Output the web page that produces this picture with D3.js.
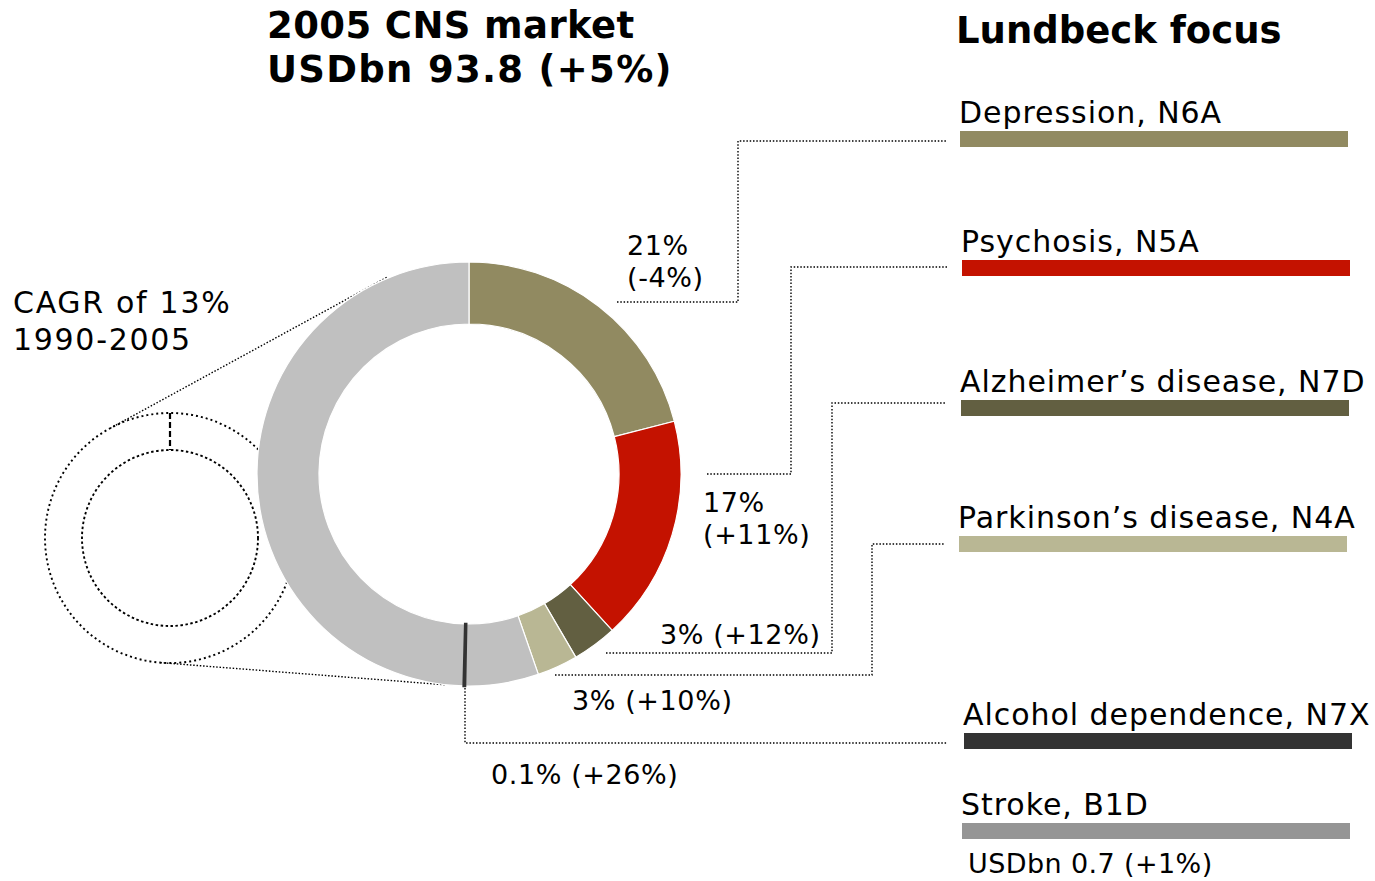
<!DOCTYPE html>
<html>
<head>
<meta charset="utf-8">
<script src="https://cdn.jsdelivr.net/npm/d3@7"></script>
<style>
  body { margin: 0; background: #fff; }
  text { font-family: "DejaVu Sans", Verdana, sans-serif; fill: #000; }
</style>
</head>
<body>
<div class="chart"></div>
<script>
var width = 1375;
var height = 881;

// market share of each slice (% of CNS market), clockwise from 12 o'clock
var segments = ["Depression", "Psychosis", "Alzheimer's", "Parkinson's", "Other A", "Alcohol", "Other B"];
var shares = [21, 17.2, 3.4, 3.1, 5.6, 0.1, 49.6];
var segColors = ["#918a61", "#c41200", "#625f41", "#b9b794", "#c0c0c0", "#333333", "#c0c0c0"];

// slice labels: share and growth
var shareLabels = ["21%", "17%", "3%", "3%", "0.1%"];
var growthLabels = ["(-4%)", "(+11%)", "(+12%)", "(+10%)", "(+26%)"];

// Lundbeck focus areas on the right
var focusNames = ["Depression, N6A", "Psychosis, N5A", "Alzheimer\u2019s disease, N7D",
  "Parkinson\u2019s disease, N4A", "Alcohol dependence, N7X", "Stroke, B1D"];
var focusColors = ["#918a61", "#c41200", "#625f41", "#b9b794", "#333333", "#959595"];

var svg = d3
  .select(".chart")
  .append("svg")
  .attr("width", width)
  .attr("height", height);

// donut geometry
var cx = 469, cy = 474, outerR = 212, innerR = 150;
// small "1990" donut
var sx = 170, sy = 538, sOuter = 125, sInner = 88;

// tangent lines between the small and the big circle (external tangents)
function tangents(c1, r1, c2, r2) {
  var dx = c2[0] - c1[0], dy = c2[1] - c1[1];
  var d = Math.sqrt(dx * dx + dy * dy);
  var base = Math.atan2(dy, dx);
  var theta = Math.acos((r1 - r2) / d);
  return [base - theta, base + theta].map(function(a) {
    var n = [Math.cos(a), Math.sin(a)];
    return [[c1[0] + r1 * n[0], c1[1] + r1 * n[1]], [c2[0] + r2 * n[0], c2[1] + r2 * n[1]]];
  });
}

var back = svg.append("g");
tangents([sx, sy], sOuter, [cx, cy], outerR).forEach(function(t, i) {
  var ext = i === 0 ? 22 : -8;
  var vx = t[1][0] - t[0][0], vy = t[1][1] - t[0][1];
  var len = Math.sqrt(vx * vx + vy * vy);
  back.append("line")
    .attr("x1", t[0][0]).attr("y1", t[0][1])
    .attr("x2", t[1][0] + vx / len * ext).attr("y2", t[1][1] + vy / len * ext)
    .attr("stroke", "#000").attr("stroke-width", 1.4)
    .attr("stroke-dasharray", "1.5,1.8");
});

back.append("circle")
  .attr("cx", sx).attr("cy", sy).attr("r", sOuter)
  .attr("fill", "none").attr("stroke", "#000").attr("stroke-width", 1.9)
  .attr("stroke-dasharray", "2,3");
back.append("circle")
  .attr("cx", sx).attr("cy", sy).attr("r", sInner)
  .attr("fill", "none").attr("stroke", "#000").attr("stroke-width", 1.9)
  .attr("stroke-dasharray", "2.5,2.5");
back.append("line")
  .attr("x1", sx).attr("x2", sx)
  .attr("y1", sy - sOuter).attr("y2", sy - sInner)
  .attr("stroke", "#000").attr("stroke-width", 2.2)
  .attr("stroke-dasharray", "6,3");

// big donut
var pie = d3.pie().sort(null).value(d => d);
var arc = d3.arc().innerRadius(innerR).outerRadius(outerR);

var slices = svg.append("g")
  .attr("transform", `translate(${cx}, ${cy})`)
  .selectAll("path")
  .data(pie(shares))
  .enter()
  .append("path")
  .attr("d", arc)
  .attr("fill", (d, i) => segColors[i])
  .attr("stroke", (d, i) => segments[i] === "Alcohol" ? "#333333" : "#fff")
  .attr("stroke-width", (d, i) => segments[i] === "Alcohol" ? 2.6 : 1.2);

// keep the tiny alcohol slice visible above its white-edged neighbours
slices.filter((d, i) => segments[i] === "Alcohol").raise();

// leader lines from slice labels to the focus bars
var leaders = [
  [[617, 302], [738, 302], [738, 141], [947, 141]],
  [[707, 474], [791, 474], [791, 267], [947, 267]],
  [[606, 653], [832, 653], [832, 403], [945, 403]],
  [[555, 675], [872, 675], [872, 544], [945, 544]],
  [[465, 688], [465, 743], [947, 743]]
];
svg.append("g")
  .selectAll("path")
  .data(leaders)
  .enter()
  .append("path")
  .attr("d", d3.line())
  .attr("fill", "none")
  .attr("stroke", "#000")
  .attr("stroke-width", 1.4)
  .attr("stroke-dasharray", "1.5,1.8");

// slice labels
var labelPos = [
  { x: 627, y: 255, two: true },
  { x: 703, y: 512, two: true },
  { x: 660, y: 644 },
  { x: 572, y: 710 },
  { x: 491, y: 784 }
];
var labels = svg.append("g").style("font-size", "27px").style("letter-spacing", "0.6px");
labelPos.forEach(function(p, i) {
  if (p.two) {
    labels.append("text").attr("x", p.x).attr("y", p.y).text(shareLabels[i]);
    labels.append("text").attr("x", p.x).attr("y", p.y + 32).text(growthLabels[i]);
  } else {
    labels.append("text").attr("x", p.x).attr("y", p.y).text(shareLabels[i] + " " + growthLabels[i]);
  }
});

// titles
var title = svg.append("g").style("font-size", "37px").style("font-weight", "bold");
title.append("text").attr("x", 267).attr("y", 38).style("letter-spacing", "0.4px").text("2005 CNS market");
title.append("text").attr("x", 267).attr("y", 82).style("letter-spacing", "1.3px").text("USDbn 93.8 (+5%)");
title.append("text").attr("x", 956).attr("y", 43).text("Lundbeck focus");

var cagr = svg.append("g").style("font-size", "30px").style("letter-spacing", "1.7px");
cagr.append("text").attr("x", 13).attr("y", 313).text("CAGR of 13%");
cagr.append("text").attr("x", 13).attr("y", 350).text("1990-2005");

// focus bars
var rowTop = [131, 260, 400, 536, 733, 823];
var barX = [960, 962, 961, 959, 964, 962];
var barW = 388, barH = 16;

var focus = svg.append("g")
  .selectAll("g")
  .data(focusNames)
  .enter()
  .append("g");

focus.append("rect")
  .attr("x", (d, i) => barX[i])
  .attr("y", (d, i) => rowTop[i])
  .attr("width", barW)
  .attr("height", barH)
  .attr("fill", (d, i) => focusColors[i]);

focus.append("text")
  .attr("x", (d, i) => barX[i] - 1)
  .attr("y", (d, i) => rowTop[i] - 8)
  .style("font-size", "30px")
  .style("letter-spacing", "0.95px")
  .text(d => d);

svg.append("text")
  .attr("x", 968)
  .attr("y", 873)
  .style("font-size", "27px")
  .style("letter-spacing", "0.4px")
  .text("USDbn 0.7 (+1%)");
</script>
</body>
</html>
